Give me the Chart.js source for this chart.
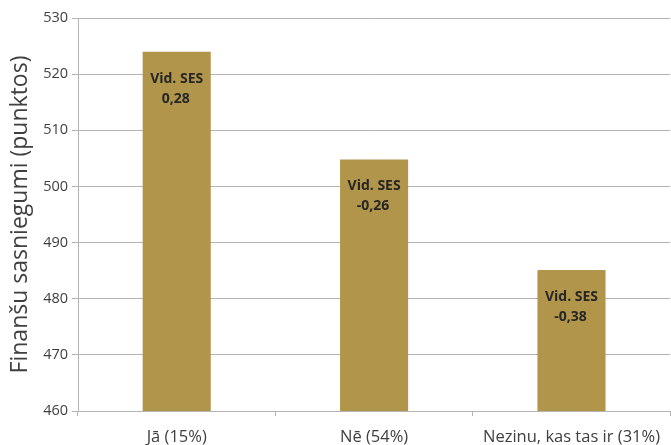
<!DOCTYPE html>
<html>
<head>
<meta charset="utf-8">
<script src="https://cdn.jsdelivr.net/npm/chart.js@4.4.1/dist/chart.umd.min.js"></script>
<style>
  html, body { margin: 0; padding: 0; background: #fff; }
  #wrap { width: 671px; height: 445px; }
</style>
</head>
<body>
<div id="wrap"><canvas id="barChart"></canvas></div>
<script>
// data
const categories = ['Jā (15%)', 'Nē (54%)', 'Nezinu, kas tas ir (31%)'];
const scores = [524, 504.8, 485.1];
const sesValues = ['0,28', '-0,26', '-0,38'];
const yTicks = [460, 470, 480, 490, 500, 510, 520, 530];

const FONT = "'Open Sans', 'Noto Sans', sans-serif";

// writes "Vid. SES" + value inside each bar
const barLabels = {
    id: 'barLabels',
    afterDatasetsDraw(chart) {
        const ctx = chart.ctx;
        const meta = chart.getDatasetMeta(0);
        ctx.save();
        ctx.fillStyle = '#262626';
        ctx.font = "bold 14px " + FONT;
        ctx.textAlign = 'center';
        ctx.textBaseline = 'middle';
        meta.data.forEach((bar, i) => {
            ctx.fillText('Vid. SES', bar.x, bar.y + 27);
            ctx.fillText(sesValues[i], bar.x - 1, bar.y + 47);
        });
        ctx.restore();
    }
};

const barCtx = document.getElementById('barChart').getContext('2d');
const barChart = new Chart(barCtx, {
    type: 'bar',
    data: {
        labels: categories,
        datasets: [{
            data: scores,
            backgroundColor: '#B0954A',
            categoryPercentage: 1,
            barPercentage: 0.345
        }]
    },
    options: {
        responsive: true,
        maintainAspectRatio: false,
        animation: false,
        layout: { padding: { top: 18, right: 0, left: 0, bottom: 0 } },
        plugins: {
            legend: { display: false },
            tooltip: { enabled: false }
        },
        scales: {
            x: {
                grid: {
                    drawOnChartArea: false,
                    color: '#B4B4B4',
                    tickLength: 5,
                    offset: true
                },
                border: { color: '#B4B4B4' },
                ticks: {
                    color: '#404040',
                    font: { family: FONT, size: 16.5 },
                    padding: 11,
                    maxRotation: 0
                },
                afterFit(scale) { scale.height = 34; }
            },
            y: {
                min: 460,
                max: 530,
                afterBuildTicks(scale) {
                    scale.ticks = yTicks.map(v => ({ value: v }));
                },
                grid: {
                    color: '#B4B4B4',
                    tickLength: 6
                },
                border: { color: '#B4B4B4' },
                ticks: {
                    color: '#404040',
                    font: { family: FONT, size: 14.5 },
                    padding: 4
                },
                title: {
                    display: true,
                    text: 'Finanšu sasniegumi (punktos)',
                    color: '#404040',
                    font: { family: FONT, size: 23 },
                    padding: { top: 7, bottom: 0 }
                },
                afterFit(scale) { scale.width = 78; }
            }
        }
    },
    plugins: [barLabels]
});
</script>
</body>
</html>
